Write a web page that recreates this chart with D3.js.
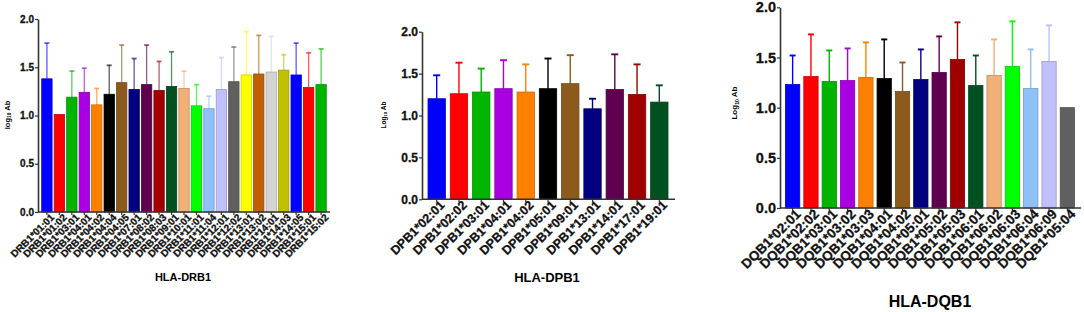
<!DOCTYPE html>
<html>
<head>
<meta charset="utf-8">
<script src="https://cdn.jsdelivr.net/npm/d3@7"></script>
<style>
  body { margin: 0; background: #fff; }
  svg { display: block; font-family: "Liberation Sans", Arial, sans-serif; }
</style>
</head>
<body>
<svg id="chart" width="1084" height="312"></svg>
<script>
// ---- data ----
const drbAlleles = ["DRB1*01:01", "DRB1*01:02", "DRB1*03:01", "DRB1*04:01", "DRB1*04:02", "DRB1*04:04",
  "DRB1*04:05", "DRB1*07:01", "DRB1*08:02", "DRB1*08:03", "DRB1*09:01", "DRB1*10:01", "DRB1*11:01",
  "DRB1*11:04", "DRB1*12:01", "DRB1*12:02", "DRB1*13:01", "DRB1*13:02", "DRB1*14:01", "DRB1*14:03",
  "DRB1*14:05", "DRB1*15:01", "DRB1*15:02"]
const drbMean = [1.38, 1.01, 1.19, 1.24, 1.11, 1.22, 1.34, 1.27, 1.32, 1.26, 1.30, 1.28, 1.10,
  1.07, 1.27, 1.35, 1.42, 1.43, 1.45, 1.47, 1.42, 1.29, 1.32]
const drbUpper = [1.75, null, 1.46, 1.49, 1.28, 1.52, 1.73, 1.59, 1.73, 1.56, 1.66, 1.46, 1.32,
  1.20, 1.60, 1.71, 1.87, 1.83, 1.82, 1.63, 1.75, 1.65, 1.69]

const dpbAlleles = ["DPB1*02:01", "DPB1*02:02", "DPB1*03:01", "DPB1*04:01", "DPB1*04:02", "DPB1*05:01",
  "DPB1*09:01", "DPB1*13:01", "DPB1*14:01", "DPB1*17:01", "DPB1*19:01"]
const dpbMean = [1.20, 1.26, 1.28, 1.32, 1.28, 1.32, 1.38, 1.08, 1.31, 1.25, 1.16]
const dpbUpper = [1.48, 1.63, 1.56, 1.66, 1.61, 1.68, 1.72, 1.20, 1.73, 1.61, 1.36]

const dqbAlleles = ["DQB1*02:01", "DQB1*02:02", "DQB1*03:01", "DQB1*03:02", "DQB1*03:03", "DQB1*04:01",
  "DQB1*04:02", "DQB1*05:01", "DQB1*05:02", "DQB1*05:03", "DQB1*06:01", "DQB1*06:02", "DQB1*06:03",
  "DQB1*06:04", "DQB1*06:09", "DQB1*05:04"]
const dqbMean = [1.23, 1.31, 1.26, 1.27, 1.30, 1.29, 1.16, 1.28, 1.35, 1.48, 1.22, 1.32, 1.41, 1.19, 1.46, 1.00]
const dqbUpper = [1.52, 1.73, 1.57, 1.59, 1.65, 1.68, 1.45, 1.58, 1.71, 1.85, 1.52, 1.68, 1.86, 1.58, 1.82, null]

const yTicks = [0, 0.5, 1.0, 1.5, 2.0]

const drbColors = ["#0000ff", "#ff0000", "#00b400", "#a800e0", "#ff8000", "#000000", "#8c5a1c", "#000080",
  "#600050", "#a00000", "#005020", "#f0b078", "#00ff00", "#90c0f8", "#c0c0ff", "#606060", "#ffff00",
  "#c06000", "#d4d4d4", "#c0c000", "#0000ff", "#ff0000", "#00b400"]
const baseColors = ["#0000ff", "#ff0000", "#00b400", "#a800e0", "#ff8000", "#000000", "#8c5a1c", "#000080",
  "#600050", "#a00000", "#005020", "#f0b078", "#00ff00", "#90c0f8", "#c0c0ff", "#606060"]

const svg = d3.select("#chart")

// one panel
function drawPanel(opt) {
  let g = svg.append("g")
  let data = opt.keys.map((k, i) => ({ key: k, value: opt.mean[i], upper: opt.upper[i], color: opt.colors[i] }))

  let yScale = d3.scaleLinear().domain([0, 2]).range([opt.y0, opt.y1])
  let xScale = d3.scaleBand()
    .domain(opt.keys)
    .range([opt.x0, opt.x1])
    .paddingInner(opt.padIn)
    .paddingOuter(opt.padOut)

  // error bars (drawn under the bars)
  let bw = xScale.bandwidth()
  let eb = g.append("g")
  data.filter(d => d.upper != null).forEach(d => {
    let cx = xScale(d.key) + bw / 2
    eb.append("line")
      .attr("x1", cx).attr("x2", cx)
      .attr("y1", yScale(d.value)).attr("y2", yScale(d.upper))
      .attr("stroke", d.color).attr("stroke-width", opt.errW)
      .attr("stroke-opacity", opt.errOpacity)
    eb.append("line")
      .attr("x1", cx - opt.cap / 2).attr("x2", cx + opt.cap / 2)
      .attr("y1", yScale(d.upper)).attr("y2", yScale(d.upper))
      .attr("stroke", d.color).attr("stroke-width", opt.errW + 0.5)
      .attr("stroke-opacity", opt.errOpacity)
  })

  // bars
  g.append("g").selectAll("rect")
    .data(data)
    .enter()
    .append("rect")
    .attr("x", d => xScale(d.key))
    .attr("y", d => yScale(d.value))
    .attr("width", bw)
    .attr("height", d => yScale(0) - yScale(d.value))
    .attr("fill", d => d.color)
    .attr("stroke", d => d3.color(d.color).darker(0.6))
    .attr("stroke-width", 0.8)

  // y axis
  let yAxis = g.append("g")
    .attr("transform", "translate(" + opt.x0 + ",0)")
    .call(d3.axisLeft(yScale).tickValues(yTicks).tickFormat(d3.format(".1f")).tickSize(3).tickPadding(1).tickSizeOuter(0))
  yAxis.select(".domain").attr("stroke", "#333").attr("stroke-width", 1.6)
  yAxis.selectAll(".tick line").attr("stroke", "#333").attr("stroke-width", 1.2)
  yAxis.selectAll("text")
    .attr("font-size", opt.yFont + "px").attr("font-weight", "bold").attr("fill", "#111")
    .attr("stroke", "#111").attr("stroke-width", 0.3)
    .attr("font-family", "Liberation Sans, Arial, sans-serif")

  // x axis
  let xAxis = g.append("g")
    .attr("transform", "translate(0," + opt.y0 + ")")
    .call(d3.axisBottom(xScale).tickSize(3).tickSizeOuter(0).tickPadding(2))
  xAxis.select(".domain").attr("stroke", "#333").attr("stroke-width", 1.6)
    .attr("d", "M" + opt.x0 + ",0H" + opt.axisEnd)
  xAxis.selectAll(".tick line").attr("stroke", "#333").attr("stroke-width", 1.2)
  xAxis.selectAll("text")
    .attr("font-size", opt.xFont + "px").attr("font-weight", "bold").attr("fill", "#111")
    .attr("stroke", "#111").attr("stroke-width", 0.3)
    .attr("font-family", "Liberation Sans, Arial, sans-serif")
    .attr("text-anchor", "end")
    .attr("dy", "0.35em")
    .attr("transform", "translate(" + opt.xShift + "," + opt.yShift + ") rotate(-45)")

  // y label
  let yl = g.append("text")
    .attr("transform", "translate(" + opt.ylabX + "," + opt.ylabY + ") rotate(-90)")
    .attr("text-anchor", "middle")
    .attr("font-size", opt.ylabFont + "px")
    .attr("font-weight", "bold")
  yl.append("tspan").text(opt.ylabText)
  yl.append("tspan").text("10").attr("font-size", (opt.ylabFont * 0.65) + "px").attr("dy", "0.3em")
  yl.append("tspan").text(" Ab").attr("dy", "-0.2em")

  // title
  g.append("text")
    .attr("x", opt.titleX).attr("y", opt.titleY)
    .attr("text-anchor", "middle")
    .attr("font-size", opt.titleFont + "px")
    .attr("font-weight", "bold")
    .text(opt.title)
}

drawPanel({
  keys: drbAlleles, mean: drbMean, upper: drbUpper, colors: drbColors,
  x0: 38, x1: 330, axisEnd: 330, y0: 212, y1: 19, padIn: 0.17, padOut: 0.3,
  errW: 1.3, errOpacity: 0.65, cap: 5, yFont: 10, xFont: 10, xShift: 2, yShift: 0,
  ylabX: 10, ylabY: 115, ylabFont: 7.5, ylabText: "log",
  title: "HLA-DRB1", titleX: 183, titleY: 281, titleFont: 11
})

drawPanel({
  keys: dpbAlleles, mean: dpbMean, upper: dpbUpper, colors: baseColors,
  x0: 422, x1: 674, axisEnd: 675, y0: 199.3, y1: 31.7, padIn: 0.22, padOut: 0.27,
  errW: 1.4, errOpacity: 1, cap: 7, yFont: 12, xFont: 12.5, xShift: 2, yShift: 0,
  ylabX: 386, ylabY: 115, ylabFont: 6.5, ylabText: "Log",
  title: "HLA-DPB1", titleX: 547, titleY: 282, titleFont: 13
})

drawPanel({
  keys: dqbAlleles, mean: dqbMean, upper: dqbUpper, colors: baseColors,
  x0: 780, x1: 1080, axisEnd: 1081, y0: 208, y1: 7.3, padIn: 0.22, padOut: 0.3,
  errW: 1.4, errOpacity: 1, cap: 6, yFont: 14.5, xFont: 13.5, xShift: 2, yShift: 0,
  ylabX: 737, ylabY: 103, ylabFont: 8, ylabText: "Log",
  title: "HLA-DQB1", titleX: 930, titleY: 307, titleFont: 16
})
</script>
</body>
</html>
